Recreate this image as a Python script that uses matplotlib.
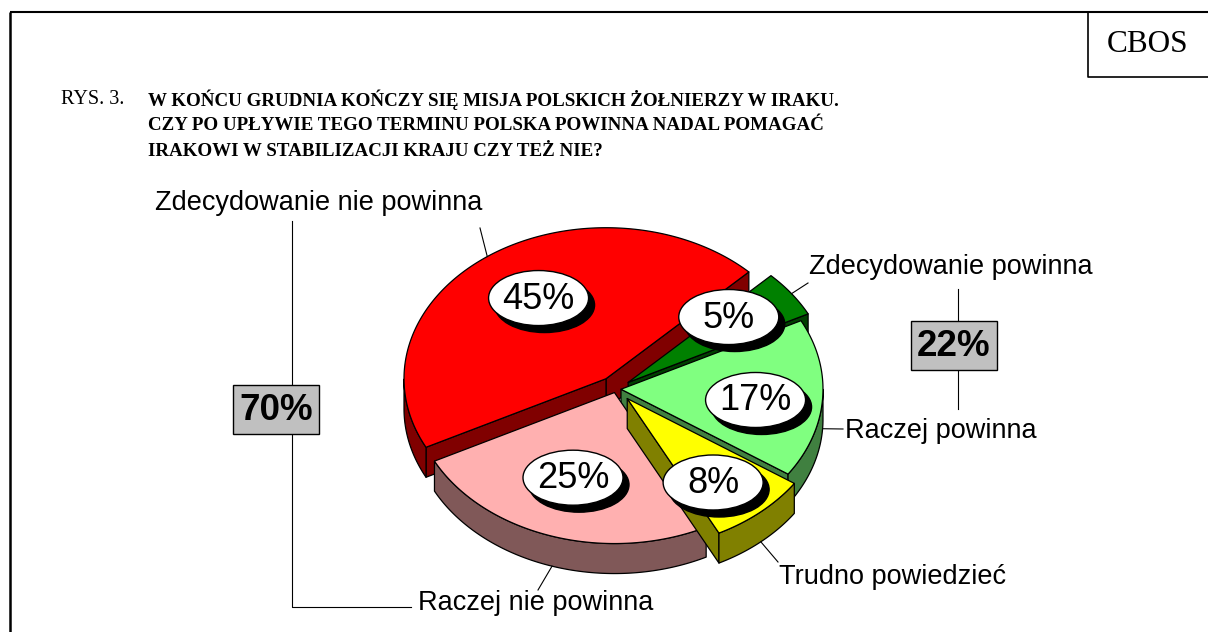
import matplotlib
matplotlib.use("Agg")
import matplotlib.pyplot as plt
from matplotlib.patches import Polygon, Ellipse, Rectangle
import numpy as np

# data
labels = ["Zdecydowanie nie powinna", "Zdecydowanie powinna", "Raczej powinna",
          "Trudno powiedzieć", "Raczej nie powinna"]
values = [45, 5, 17, 8, 25]
top_colors = ["#ff0000", "#008000", "#80ff80", "#ffff00", "#ffb0b0"]
side_colors = ["#800000", "#004000", "#408040", "#808000", "#805858"]
explode = [17, 15, 5, 17, 5]
label_r = [0.63, 0.66, 0.67, 0.7, 0.6]
label_turn = [-4, 5, -2.5, -4, -2]   # small angle nudge of the % bubbles
group_no = [0, 4]      # "nie powinna" slices
group_yes = [1, 2]     # "powinna" slices

title_lines = ["W KOŃCU GRUDNIA KOŃCZY SIĘ MISJA POLSKICH ŻOŁNIERZY W IRAKU.",
               "CZY PO UPŁYWIE TEGO TERMINU POLSKA POWINNA NADAL POMAGAĆ",
               "IRAKOWI W STABILIZACJI KRAJU CZY TEŻ NIE?"]

# pie geometry (pixels)
cx, cy = 616, 389
rx, ry = 202, 151
depth = 30
start = 207.0

SANS = "Liberation Sans"
SERIF = "Liberation Serif"

fig = plt.figure(figsize=(12.08, 6.32), dpi=100)
ax = fig.add_axes([0, 0, 1, 1])
ax.set_xlim(0, 1208)
ax.set_ylim(632, 0)
ax.axis("off")

# frame
ax.plot([10, 10], [12, 632], color="black", lw=1.8, solid_capstyle="butt")
ax.plot([10, 1208], [12, 12], color="black", lw=1.5, solid_capstyle="butt")
ax.plot([1088, 1088, 1208], [12, 77, 77], color="black", lw=1.2)
ax.text(1148, 45, "CBOS", family=SERIF, fontsize=22.5, ha="center", va="center")

ax.text(61, 100, "RYS. 3.", family=SERIF, fontsize=14.5, ha="left", va="center")
for i, line in enumerate(title_lines):
    ax.text(148, 100 + 26 * i, line, family=SERIF, fontsize=13.7, weight="bold",
            ha="left", va="center")

# slice angles (clockwise from start)
vals = np.array(values, dtype=float)
frac = vals / vals.sum() * 360
t_start = start - np.concatenate([[0], np.cumsum(frac)[:-1]])
t_end = t_start - frac   # slice spans t_end .. t_start counterclockwise
mids = (t_start + t_end) / 2


def pt(x0, y0, t, r=1.0):
    tr = np.radians(t)
    return x0 + rx * r * np.cos(tr), y0 - ry * r * np.sin(tr)


centers = []
for k in range(len(values)):
    m = np.radians(mids[k])
    centers.append((cx + explode[k] * np.cos(m), cy - explode[k] * np.sin(m) * ry / rx))


def draw_slice(k):
    x0, y0 = centers[k]
    a, b = t_end[k], t_start[k]
    ts = np.linspace(a, b, 200)
    xs, ys = pt(x0, y0, ts)
    kw = dict(edgecolor="black", lw=0.9, joinstyle="round")
    # radial faces
    for t, vis in ((a, np.cos(np.radians(a)) > 0), (b, np.cos(np.radians(b)) < 0)):
        if vis:
            ex, ey = pt(x0, y0, t)
            ax.add_patch(Polygon([(x0, y0), (ex, ey), (ex, ey + depth), (x0, y0 + depth)],
                                 facecolor=side_colors[k], **kw))
    # outer wall
    front = np.sin(np.radians(ts)) < 0
    idx = np.where(front)[0]
    if len(idx):
        runs = np.split(idx, np.where(np.diff(idx) > 1)[0] + 1)
        for run in runs:
            top = list(zip(xs[run], ys[run]))
            bot = list(zip(xs[run][::-1], ys[run][::-1] + depth))
            ax.add_patch(Polygon(top + bot, facecolor=side_colors[k], **kw))
    # top face
    ax.add_patch(Polygon([(x0, y0)] + list(zip(xs, ys)), facecolor=top_colors[k], **kw))


for k in [0, 1, 2, 4, 3]:
    draw_slice(k)

# percentage bubbles
for k in range(len(values)):
    x0, y0 = centers[k]
    lx, ly = pt(x0, y0, mids[k] + label_turn[k], label_r[k])
    ax.add_patch(Ellipse((lx + 6, ly + 7), 100, 55, facecolor="black", edgecolor="black", lw=1))
    ax.add_patch(Ellipse((lx, ly), 100, 55, facecolor="white", edgecolor="black", lw=1))
    ax.text(lx, ly + 1, f"{values[k]}%", family=SANS, fontsize=26, ha="center", va="center")

# category labels with leader lines
label_pos = [(155, 203, "left"), (809, 267, "left"), (845, 431, "left"),
             (779, 577, "left"), (418, 603, "left")]
leader_end = [(480, 228), (808, 283), (843, 429), (778, 562), (538, 590)]
for k in range(len(values)):
    x0, y0 = centers[k]
    sx, sy = pt(x0, y0, mids[k])
    if np.sin(np.radians(mids[k])) < 0:
        sy += depth
    ex, ey = leader_end[k]
    ax.plot([sx, ex], [sy, ey], color="black", lw=0.8)
    tx, ty, ha = label_pos[k]
    ax.text(tx, ty, labels[k], family=SANS, fontsize=19.5, ha=ha, va="center")

# group brackets
no_total = sum(values[k] for k in group_no)
yes_total = sum(values[k] for k in group_yes)
ax.plot([292, 292, 411], [221, 607, 607], color="black", lw=0.8)
ax.add_patch(Rectangle((233, 385), 86, 49, facecolor="#c0c0c0", edgecolor="black", lw=1, zorder=3))
ax.text(276, 410, f"{no_total}%", family=SANS, fontsize=26.5, weight="bold",
        ha="center", va="center", zorder=4)
ax.plot([958, 958], [289, 409], color="black", lw=0.8)
ax.add_patch(Rectangle((911, 321), 86, 49, facecolor="#c0c0c0", edgecolor="black", lw=1, zorder=3))
ax.text(954, 346, f"{yes_total}%", family=SANS, fontsize=26.5, weight="bold",
        ha="center", va="center", zorder=4)

fig.savefig("out.png", dpi=100, facecolor="white")
